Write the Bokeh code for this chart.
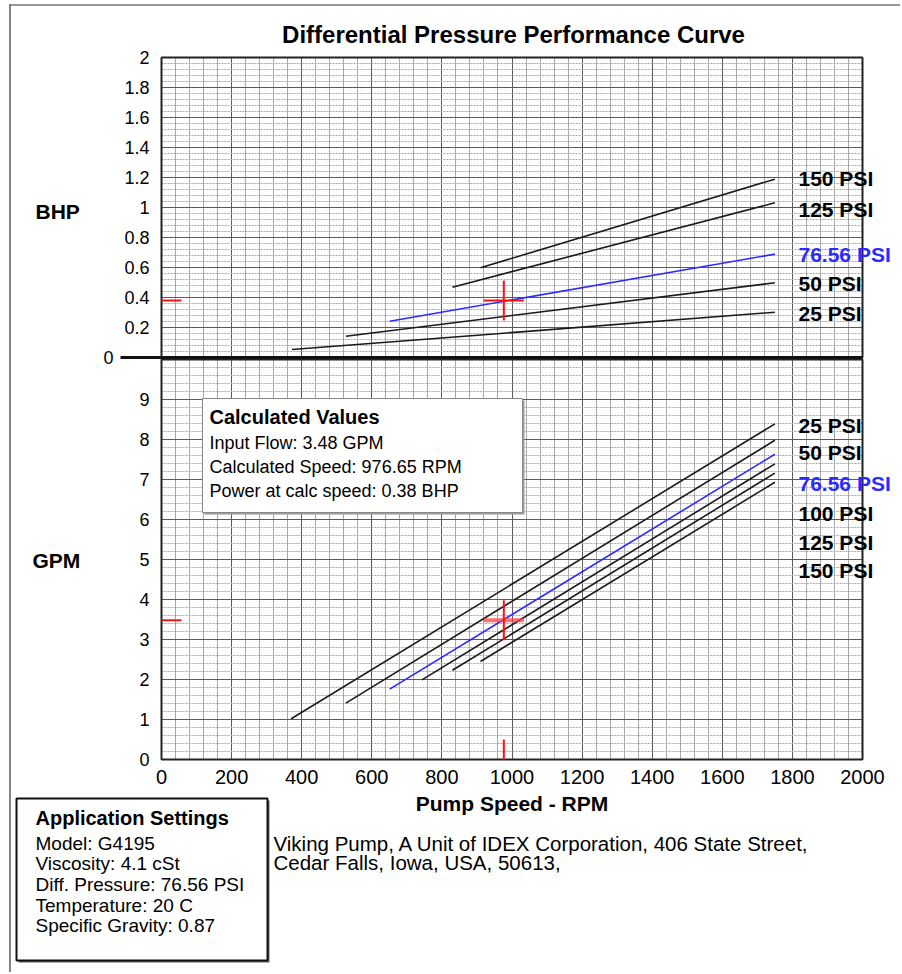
from bokeh.plotting import figure
from bokeh.models import (Range1d, FixedTicker, SingleIntervalTicker, Label,
                          BoxAnnotation, ColumnDataSource, LinearAxis, Grid)
from bokeh.embed import file_html
from bokeh.resources import INLINE

# ---------------- data ----------------
TITLE = "Differential Pressure Performance Curve"
X_LABEL = "Pump Speed - RPM"
RPM_MIN, RPM_MAX = 0, 2000
BHP_MAX = 2
GPM_MAX = 10
RPM_TICKS = [0, 200, 400, 600, 800, 1000, 1200, 1400, 1600, 1800, 2000]
BHP_TICKS = [0.2, 0.4, 0.6, 0.8, 1.0, 1.2, 1.4, 1.6, 1.8, 2.0]
BHP_TICK_LABELS = ["0.2", "0.4", "0.6", "0.8", "1", "1.2", "1.4", "1.6", "1.8", "2"]
GPM_TICKS = [0, 1, 2, 3, 4, 5, 6, 7, 8, 9]

# power curves (BHP vs RPM)
BHP_SERIES = ["150 PSI", "125 PSI", "76.56 PSI", "50 PSI", "25 PSI"]
BHP_SPEED_START = [910, 830, 651, 526, 372]
BHP_SPEED_END = [1750, 1750, 1750, 1750, 1750]
BHP_VALUE_START = [0.598, 0.469, 0.242, 0.142, 0.053]
BHP_VALUE_END = [1.189, 1.031, 0.689, 0.498, 0.302]

# flow curves (GPM vs RPM)
GPM_SERIES = ["25 PSI", "50 PSI", "76.56 PSI", "100 PSI", "125 PSI", "150 PSI"]
GPM_SPEED_START = [370, 526, 651, 743, 830, 910]
GPM_SPEED_END = [1750, 1750, 1750, 1750, 1750, 1750]
GPM_VALUE_START = [1.02, 1.41, 1.76, 1.99, 2.23, 2.45]
GPM_VALUE_END = [8.39, 7.98, 7.63, 7.39, 7.16, 6.93]

SELECTED = "76.56 PSI"
CALC_FLOW = 3.48
CALC_SPEED = 976.65
CALC_POWER = 0.38

SETTINGS = ["Model: G4195", "Viscosity: 4.1 cSt", "Diff. Pressure: 76.56 PSI",
            "Temperature: 20 C", "Specific Gravity: 0.87"]
ADDRESS = ["Viking Pump, A Unit of IDEX Corporation, 406 State Street,",
           "Cedar Falls, Iowa, USA, 50613,"]

# ---------------- layout (page pixels -> data units) ----------------
W, H = 900, 972
FONT = "Liberation Sans"
BLACK = "#1a1a1a"
BLUE = "#2b2bff"
RED = "#ff1010"
GRID_MAJOR = "#5e5866"
GRID_MINOR = "#a9a9a9"

FX0, FX1 = 161, 862      # plot area left/right in px
BHP_Y0, BHP_PX = 357, 150  # px of BHP 0, px per BHP
GPM_Y0, GPM_PX = 759, 40   # px of GPM 0, px per GPM


def rx(px):
    return (px - FX0) / (FX1 - FX0) * (RPM_MAX - RPM_MIN) + RPM_MIN


def by(py):
    return (BHP_Y0 - py) / BHP_PX


def gy(py):
    return (GPM_Y0 - py) / GPM_PX


p = figure(width=W, height=H, x_range=Range1d(rx(0), rx(W)), y_range=Range1d(gy(H), gy(0)),
           x_axis_type=None, y_axis_type=None, output_backend="svg",
           toolbar_location=None, tools="", min_border=0)
p.extra_y_ranges = {"bhp": Range1d(by(H), by(0))}
p.outline_line_color = None
p.background_fill_color = "#ffffff"
p.border_fill_color = "#ffffff"

HAS_CB = "cross_bounds" in Grid.properties()


def add_grid(dim, interval, bounds, cross, rname, dashed):
    if HAS_CB:
        g = Grid(dimension=dim, ticker=SingleIntervalTicker(interval=interval, num_minor_ticks=5),
                 bounds=bounds, cross_bounds=cross, y_range_name=rname,
                 grid_line_color=GRID_MAJOR, grid_line_width=1,
                 minor_grid_line_color=GRID_MINOR, minor_grid_line_width=1)
        if dashed:
            g.minor_grid_line_dash = "2 1"
        p.add_layout(g)
    else:
        step = interval / 5
        n = int(round((bounds[1] - bounds[0]) / step))
        for k in (True, False):
            vals = [bounds[0] + i * step for i in range(1, n) if (i % 5 == 0) == k]
            if dim == 0:
                xs0, xs1, ys0, ys1 = vals, vals, [cross[0]] * len(vals), [cross[1]] * len(vals)
            else:
                xs0, xs1 = [cross[0]] * len(vals), [cross[1]] * len(vals)
                ys0, ys1 = vals, vals
            p.segment(xs0, ys0, xs1, ys1, y_range_name=rname, level="underlay",
                      line_color=GRID_MAJOR if k else GRID_MINOR, line_width=1,
                      line_dash="2 1" if (dashed and not k) else "solid")


# grids
add_grid(0, 200, (RPM_MIN, RPM_MAX), (0, BHP_MAX), "bhp", False)
add_grid(1, 0.2, (0, BHP_MAX), (RPM_MIN, RPM_MAX), "bhp", True)
add_grid(0, 200, (RPM_MIN, RPM_MAX), (0, GPM_MAX), "default", False)
add_grid(1, 1, (0, GPM_MAX), (RPM_MIN, RPM_MAX), "default", True)


def style_axis(ax, size):
    ax.major_tick_line_color = None
    ax.minor_tick_line_color = None
    ax.axis_line_color = None
    ax.major_label_text_font = FONT
    ax.major_label_text_font_size = size
    ax.major_label_text_color = "#000000"


ax_bhp = LinearAxis(y_range_name="bhp", fixed_location=0, bounds=(0, BHP_MAX),
                    ticker=FixedTicker(ticks=BHP_TICKS),
                    major_label_overrides={t: l for t, l in zip(BHP_TICKS, BHP_TICK_LABELS)},
                    major_label_standoff=6)
style_axis(ax_bhp, "18px")
p.add_layout(ax_bhp, "left")

ax_gpm = LinearAxis(fixed_location=0, bounds=(0, GPM_MAX), ticker=FixedTicker(ticks=GPM_TICKS),
                    major_label_standoff=6)
style_axis(ax_gpm, "18px")
p.add_layout(ax_gpm, "left")

ax_rpm = LinearAxis(fixed_location=0, bounds=(RPM_MIN, RPM_MAX), ticker=FixedTicker(ticks=RPM_TICKS),
                    major_label_standoff=4)
style_axis(ax_rpm, "20px")
p.add_layout(ax_rpm, "below")

# plot area outlines
p.quad(left=[RPM_MIN], right=[RPM_MAX], bottom=[0], top=[BHP_MAX], y_range_name="bhp",
       fill_color=None, line_color="#222222", line_width=2)
p.quad(left=[RPM_MIN], right=[RPM_MAX], bottom=[0], top=[GPM_MAX],
       fill_color=None, line_color="#222222", line_width=2)

# thick BHP zero line, extended to the left
p.segment(x0=[rx(120)], y0=[0], x1=[RPM_MAX], y1=[0], y_range_name="bhp",
          line_color="#111111", line_width=3)

# outer frame lines of the page
p.segment(x0=[rx(9.5), rx(9)], y0=[gy(4), gy(4.5)], x1=[rx(9.5), rx(W)], y1=[gy(H), gy(4.5)],
          line_color="#333333", line_width=1.2)

# curves
src_top = ColumnDataSource(dict(
    x0=BHP_SPEED_START, y0=BHP_VALUE_START, x1=BHP_SPEED_END, y1=BHP_VALUE_END,
    color=[BLUE if s == SELECTED else BLACK for s in BHP_SERIES]))
p.segment("x0", "y0", "x1", "y1", source=src_top, y_range_name="bhp",
          line_color="color", line_width=1.6)

src_bot = ColumnDataSource(dict(
    x0=GPM_SPEED_START, y0=GPM_VALUE_START, x1=GPM_SPEED_END, y1=GPM_VALUE_END,
    color=[BLUE if s == SELECTED else BLACK for s in GPM_SERIES]))
p.segment("x0", "y0", "x1", "y1", source=src_bot, line_color="color", line_width=1.6)

# red markers of the calculated point
CROSS_DX = 57
p.segment(x0=[0, CALC_SPEED - CROSS_DX, CALC_SPEED], y0=[CALC_POWER, CALC_POWER, CALC_POWER - 0.133],
          x1=[CROSS_DX, CALC_SPEED + CROSS_DX, CALC_SPEED], y1=[CALC_POWER, CALC_POWER, CALC_POWER + 0.133],
          y_range_name="bhp", line_color=RED, line_width=2)
p.segment(x0=[CALC_SPEED - CROSS_DX], y0=[CALC_FLOW], x1=[CALC_SPEED + CROSS_DX], y1=[CALC_FLOW],
          line_color="#ff4040", line_alpha=0.75, line_width=4)
p.segment(x0=[0, CALC_SPEED, CALC_SPEED], y0=[CALC_FLOW, CALC_FLOW - 0.5, 0],
          x1=[CROSS_DX, CALC_SPEED, CALC_SPEED], y1=[CALC_FLOW, CALC_FLOW + 0.5, 0.5],
          line_color=RED, line_width=2)


def label(x, y, text, size, bold=False, color="#000000", align="left", rname="default"):
    p.add_layout(Label(x=x, y=y, text=text, y_range_name=rname, text_font=FONT,
                       text_font_size=size, text_font_style="bold" if bold else "normal",
                       text_color=color, text_align=align, text_baseline="middle"))


label(rx(108), 0, "0", "18px", align="center", rname="bhp")
label(rx(513), by(34), TITLE, "24px", bold=True, align="center", rname="bhp")
label(rx(35), by(211), "BHP", "21px", bold=True, rname="bhp")
label(rx(32), gy(560), "GPM", "21px", bold=True)
label(1000, gy(803), X_LABEL, "21px", bold=True, align="center")

BHP_LABEL_Y = [178, 209, 254, 283, 313]
for s, py in zip(BHP_SERIES, BHP_LABEL_Y):
    label(rx(798), by(py), s, "21px", bold=True,
          color=BLUE if s == SELECTED else "#000000", rname="bhp")

GPM_LABEL_Y = [425, 452, 483, 513, 542, 570]
for s, py in zip(GPM_SERIES, GPM_LABEL_Y):
    label(rx(798), gy(py), s, "21px", bold=True, color=BLUE if s == SELECTED else "#000000")

# calculated values box
p.add_layout(BoxAnnotation(left=rx(204), right=rx(524), bottom=gy(514), top=gy(400),
                           fill_color="#9a9a9a", fill_alpha=1, line_color=None))
p.add_layout(BoxAnnotation(left=rx(202), right=rx(522), bottom=gy(512), top=gy(398),
                           fill_color="#ffffff", fill_alpha=1, line_color="#8a8a8a",
                           line_alpha=1, line_width=1))
label(rx(209), gy(416), "Calculated Values", "20px", bold=True)
calc_lines = [f"Input Flow: {CALC_FLOW:.2f} GPM",
              f"Calculated Speed: {CALC_SPEED:.2f} RPM",
              f"Power at calc speed: {CALC_POWER:.2f} BHP"]
for t, py in zip(calc_lines, [442, 466, 490]):
    label(rx(209), gy(py), t, "18px")

# application settings box
p.add_layout(BoxAnnotation(left=rx(18), right=rx(269), bottom=gy(962), top=gy(800),
                           fill_color="#606060", fill_alpha=1, line_color=None))
p.add_layout(BoxAnnotation(left=rx(16), right=rx(267), bottom=gy(960), top=gy(798),
                           fill_color="#ffffff", fill_alpha=1, line_color="#111111",
                           line_alpha=1, line_width=2))
label(rx(35), gy(817), "Application Settings", "20px", bold=True)
for t, py in zip(SETTINGS, [843, 863, 884, 905, 925]):
    label(rx(35), gy(py), t, "19px")

for t, py in zip(ADDRESS, [843, 862]):
    label(rx(273), gy(py), t, "20.5px")

open("out.html", "w").write(file_html(p, INLINE))
